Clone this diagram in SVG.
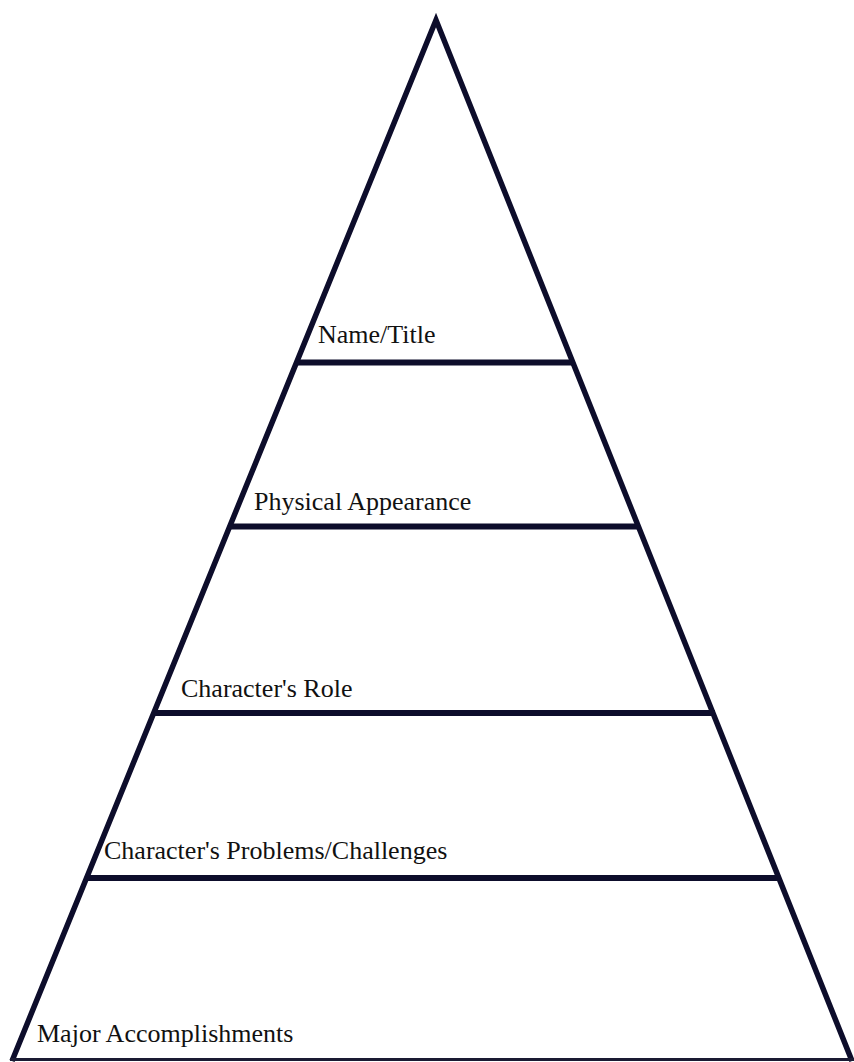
<svg xmlns="http://www.w3.org/2000/svg" width="854" height="1062" viewBox="0 0 854 1062">
  <style>
    .edge { fill: none; stroke: #0d0d2b; stroke-width: 5.5; stroke-linejoin: miter; stroke-miterlimit: 10; }
    .tier { stroke: #0d0d2b; stroke-width: 6; }
    .base { stroke: #1a1a33; stroke-width: 3; }
    .label { font-family: "Liberation Serif", "Times New Roman", serif; font-size: 26px; fill: #111111; }
  </style>
  <rect width="854" height="1062" fill="#ffffff"/>

  <!-- pyramid outline and tier dividers -->
  <g id="connectors">
    <polyline class="edge" points="12,1061 436,20 852,1061"/>
    <line class="base" x1="10" y1="1059.5" x2="854" y2="1059.5"/>
    <line class="tier" x1="296" y1="362.5" x2="574" y2="362.5"/>
    <line class="tier" x1="229" y1="526.5" x2="639" y2="526.5"/>
    <line class="tier" x1="153" y1="713" x2="715" y2="713"/>
    <line class="tier" x1="86" y1="878" x2="780" y2="878"/>
  </g>

  <g id="tier-name">
    <text class="label" x="318" y="343">Name/Title</text>
  </g>
  <g id="tier-appearance">
    <text class="label" x="254" y="510">Physical Appearance</text>
  </g>
  <g id="tier-role">
    <text class="label" x="181" y="697">Character's Role</text>
  </g>
  <g id="tier-problems">
    <text class="label" x="104" y="859">Character's Problems/Challenges</text>
  </g>
  <g id="tier-accomplishments">
    <text class="label" x="37" y="1042">Major Accomplishments</text>
  </g>
</svg>
